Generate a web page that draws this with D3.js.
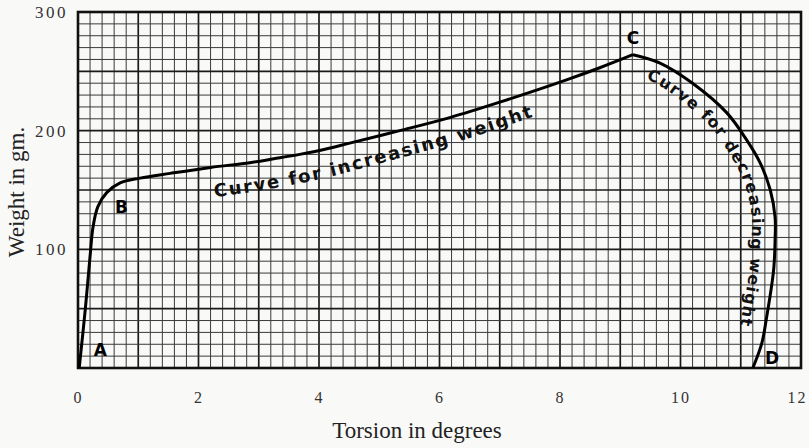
<!DOCTYPE html>
<html><head><meta charset="utf-8">
<script src="https://cdn.jsdelivr.net/npm/d3@7"></script>
<style>html,body{margin:0;padding:0;background:#f9f9f8;}svg{display:block;}</style>
</head><body>
<svg id="c" width="809" height="448"></svg>
<script>
// ---- data ----
const torsionInc = [0.02,0.12,0.2,0.25,0.33,0.48,0.7,1.03,1.53,2.2,2.85,3.25,3.68,4.1,4.51,5.34,6.17,7.0,8.12,8.66,9.21];
const weightInc  = [0,49,94,119,136,148,156,160,164,169,173,176.3,180,184.3,189.5,200,211,224,243,253,264];
const torsionDec = [9.21,9.66,10.2,10.77,11.1,11.32,11.49,11.57,11.57,11.55,11.52,11.43,11.35,11.2];
const weightDec  = [264,257,240,215,192,173,150,127,108,85,72,43,21,0];
const xTicks = [0,2,4,6,8,10,12];
const yTicks = [100,200,300];
const pointLabels = ["A","B","C","D"];
const pointLabelPos = [[0.37,14],[0.72,135],[9.21,277],[11.52,8]];
const incLabel = "Curve for increasing weight";
const decLabel = "Curve for decreasing weight";

const svg = d3.select("#c");
const x = d3.scaleLinear().domain([0,12]).range([78,801]);
const y = d3.scaleLinear().domain([0,300]).range([368,12]);

// grid
const g = svg.append("g");
d3.range(0,61).forEach(i=>{
  const v=i*0.2, thick=i%5===0;
  g.append("line").attr("x1",x(v)).attr("x2",x(v)).attr("y1",y(0)).attr("y2",y(300))
   .attr("stroke",thick?"#1a1a1a":"#3a3a3a").attr("stroke-width",thick?1.7:1);
});
d3.range(0,31).forEach(j=>{
  const v=j*10, thick=j%5===0;
  g.append("line").attr("x1",x(0)).attr("x2",x(12)).attr("y1",y(v)).attr("y2",y(v))
   .attr("stroke",thick?"#1a1a1a":"#3a3a3a").attr("stroke-width",thick?1.7:1);
});
g.append("rect").attr("x",x(0)).attr("y",y(300)).attr("width",x(12)-x(0)).attr("height",y(0)-y(300))
 .attr("fill","none").attr("stroke","#111").attr("stroke-width",2.6);

// axes labels
const xAxis = svg.append("g").attr("transform",`translate(0,${y(0)})`)
  .call(d3.axisBottom(x).tickValues(xTicks).tickSize(0).tickPadding(24).tickFormat(d3.format("d")));
xAxis.select(".domain").remove();
xAxis.selectAll("text").attr("font-family","Liberation Serif").attr("font-size",16)
  .attr("letter-spacing",2).attr("fill","#333")
  .attr("dx",d=>d===12?-4:0);
const yAxis = svg.append("g").attr("transform",`translate(${x(0)},0)`)
  .call(d3.axisLeft(y).tickValues(yTicks).tickSize(0).tickPadding(10).tickFormat(d3.format("d")));
yAxis.select(".domain").remove();
yAxis.selectAll("text").attr("font-family","Liberation Serif").attr("font-size",17)
  .attr("letter-spacing",2.5).attr("fill","#333");

svg.append("text").attr("x",417).attr("y",438).attr("text-anchor","middle")
  .attr("font-family","Liberation Serif").attr("font-size",23).attr("fill","#222").text("Torsion in degrees");
svg.append("text").attr("transform","translate(24,192) rotate(-90)").attr("text-anchor","middle")
  .attr("font-family","Liberation Serif").attr("font-size",23).attr("fill","#222").text("Weight in gm.");

// curves
const line = d3.line().x(d=>x(d[0])).y(d=>y(d[1])).curve(d3.curveCatmullRom.alpha(0.5));
const incData = torsionInc.map((t,i)=>[t,weightInc[i]]);
const decData = torsionDec.map((t,i)=>[t,weightDec[i]]);
const incPath = svg.append("path").datum(incData).attr("d",line).attr("fill","none")
  .attr("stroke","#000").attr("stroke-width",3).attr("stroke-linejoin","round");
const decPath = svg.append("path").datum(decData).attr("d",line).attr("fill","none")
  .attr("stroke","#000").attr("stroke-width",3).attr("stroke-linejoin","round");

// offset text path builder
function offsetPath(node, startFn, endFn, d0, d1, id){
  const L = node.getTotalLength();
  const pts=[];
  for(let l=0;l<=L;l+=2) pts.push([l,node.getPointAtLength(l)]);
  let s=pts.findIndex(p=>startFn(p[1])); let e=pts.findIndex((p,i)=>i>s && endFn(p[1]));
  if(e<0) e=pts.length-1;
  const out=[];
  for(let i=s;i<=e;i++){
    const a=pts[Math.max(0,i-3)][1], b=pts[Math.min(pts.length-1,i+3)][1];
    let tx=b.x-a.x, ty=b.y-a.y; const n=Math.hypot(tx,ty)||1; tx/=n; ty/=n;
    const f=(i-s)/Math.max(1,e-s); const d=d0+(d1-d0)*f;
    out.push([pts[i][1].x - ty*d, pts[i][1].y + tx*d]);
  }
  const p = svg.append("defs").append("path").attr("id",id)
    .attr("d",d3.line().curve(d3.curveBasis)(out));
  return p.node().getTotalLength();
}
const incLen = offsetPath(incPath.node(), p=>p.x>=x(2.2), p=>p.x>=x(7.45), 30, 24, "incText");
svg.append("text").attr("font-family","DejaVu Sans").attr("font-weight","bold").attr("font-size",18).attr("fill","#111")
  .append("textPath").attr("href","#incText").attr("textLength",incLen-2).attr("lengthAdjust","spacing").text(incLabel);
const decLen = offsetPath(decPath.node(), p=>p.x>=x(9.5), p=>p.y>=y(32), 20, 25, "decText");
svg.append("text").attr("font-family","DejaVu Sans").attr("font-weight","bold").attr("font-size",16).attr("fill","#111")
  .append("textPath").attr("href","#decText").attr("textLength",decLen-2).attr("lengthAdjust","spacing").text(decLabel);

// point letters
svg.selectAll("text.pl").data(pointLabels).join("text").attr("class","pl")
  .attr("x",(d,i)=>x(pointLabelPos[i][0])).attr("y",(d,i)=>y(pointLabelPos[i][1]))
  .attr("text-anchor","middle").attr("dominant-baseline","middle")
  .attr("font-family","DejaVu Sans").attr("font-weight","bold").attr("font-size",17).attr("fill","#000")
  .text(d=>d);
</script>
</body></html>
